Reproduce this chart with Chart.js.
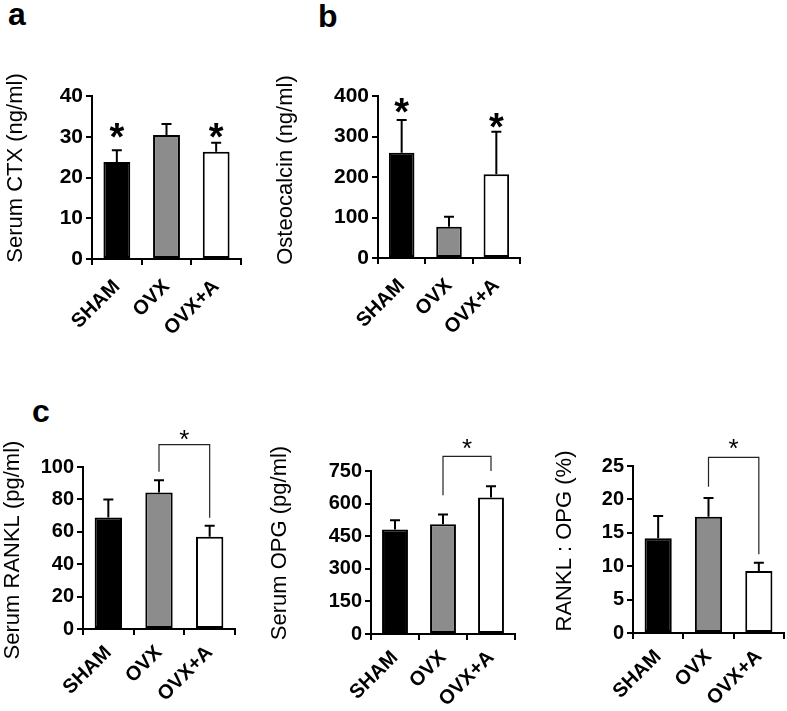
<!DOCTYPE html>
<html>
<head>
<meta charset="utf-8">
<script src="https://cdn.jsdelivr.net/npm/chart.js@4.4.1/dist/chart.umd.min.js"></script>
<style>
  body { margin: 0; background: #fff; }
  #fig { position: relative; width: 787px; height: 711px; overflow: hidden; font-family: "Liberation Sans", Arial, sans-serif; }
  #fig canvas { position: absolute; }
  .letter { position: absolute; font-weight: bold; font-size: 32px; line-height: 1; color: #000; }
</style>
</head>
<body>
<div id="fig">
  <div class="letter" style="left:8px;top:-2px">a</div>
  <div class="letter" style="left:318px;top:0px">b</div>
  <div class="letter" style="left:32px;top:395px">c</div>
  <canvas id="chartA" width="250" height="330" style="left:0px;top:30px"></canvas>
  <canvas id="chartB" width="270" height="330" style="left:255px;top:30px"></canvas>
  <canvas id="chartC1" width="245" height="291" style="left:0px;top:420px"></canvas>
  <canvas id="chartC2" width="270" height="291" style="left:250px;top:420px"></canvas>
  <canvas id="chartC3" width="262" height="291" style="left:525px;top:420px"></canvas>
</div>
<script>
var groups = ['SHAM', 'OVX', 'OVX+A'];
var barColors = ['#000000', '#8c8c8c', '#ffffff'];

// a - serum CTX
var ctxMeans = [23.8, 30.4, 26.3];
var ctxErrors = [2.9, 2.7, 2.2];
var ctxStars = [32.1, null, 32.1];
var ctxTicks = [0, 10, 20, 30, 40];

// b - osteocalcin
var ocnMeans = [260, 77, 207];
var ocnErrors = [81, 25, 105];
var ocnStars = [383, null, 346];
var ocnTicks = [0, 100, 200, 300, 400];

// c - RANKL, OPG, ratio
var ranklMeans = [68.9, 84.2, 57];
var ranklErrors = [11.1, 7.6, 6.7];
var ranklTicks = [0, 20, 40, 60, 80, 100];
var ranklBracket = { from: 1, to: 2, left: 97, right: 68.6, top: 113.8, star: 121 };

var opgMeans = [481, 505, 628];
var opgErrors = [42, 45, 52];
var opgTicks = [0, 150, 300, 450, 600, 750];
var opgBracket = { from: 1, to: 2, left: 638, right: 750, top: 817, star: 883 };

var ratioMeans = [14.2, 17.4, 9.3];
var ratioErrors = [3.3, 2.8, 1.2];
var ratioTicks = [0, 5, 10, 15, 20, 25];
var ratioBracket = { from: 1, to: 2, left: 21.9, right: 11.8, top: 26.3, star: 28.6 };

var family = '"Liberation Sans", Arial, sans-serif';

// error bars, stars, brackets and the y title
var extrasPlugin = {
  id: 'extras',
  afterDatasetsDraw(chart, args, opts) {
    var ctx = chart.ctx;
    var y = chart.scales.y;
    var meta = chart.getDatasetMeta(0);
    ctx.save();
    ctx.strokeStyle = '#000';
    ctx.lineWidth = 2;
    opts.means.forEach((m, i) => {
      var bx = meta.data[i].x;
      var y0 = y.getPixelForValue(m);
      var y1 = y.getPixelForValue(m + opts.errors[i]);
      ctx.beginPath();
      ctx.moveTo(bx, y0);
      ctx.lineTo(bx, y1);
      ctx.moveTo(bx - 5, y1);
      ctx.lineTo(bx + 5, y1);
      ctx.stroke();
    });

    ctx.fillStyle = '#000';
    ctx.textAlign = 'center';
    ctx.textBaseline = 'alphabetic';
    if (opts.stars) {
      ctx.font = 'bold 38px ' + family;
      opts.stars.forEach((s, i) => {
        if (s == null) return;
        ctx.fillText('*', meta.data[i].x, y.getPixelForValue(s) + 0.57 * 38);
      });
    }

    var b = opts.bracket;
    if (b) {
      var xl = meta.data[b.from].x, xr = meta.data[b.to].x;
      var yt = y.getPixelForValue(b.top);
      ctx.lineWidth = 1.2;
      ctx.strokeStyle = '#222';
      ctx.beginPath();
      ctx.moveTo(xl, y.getPixelForValue(b.left));
      ctx.lineTo(xl, yt);
      ctx.lineTo(xr, yt);
      ctx.lineTo(xr, y.getPixelForValue(b.right));
      ctx.stroke();
      ctx.font = '26px ' + family;
      ctx.fillText('*', (xl + xr) / 2, y.getPixelForValue(b.star) + 0.57 * 26);
    }

    var t = opts.title;
    ctx.translate(t.x, t.y);
    ctx.rotate(-Math.PI / 2);
    ctx.font = '22px ' + family;
    ctx.textBaseline = 'middle';
    ctx.fillText(t.text, 0, 0);
    ctx.restore();
  }
};

function makePanel(id, means, errors, ticks, box, extras) {
  var axisLine = { display: true, color: '#000', width: 2 };
  return new Chart(document.getElementById(id), {
    type: 'bar',
    data: {
      labels: groups,
      datasets: [{
        data: means,
        backgroundColor: barColors,
        borderColor: '#000',
        borderWidth: 2,
        borderSkipped: false,
        barPercentage: 0.54,
        categoryPercentage: 1
      }]
    },
    options: {
      responsive: false,
      animation: false,
      layout: { padding: { top: box.top, right: box.right, bottom: 0, left: 0 } },
      plugins: {
        legend: { display: false },
        tooltip: { enabled: false },
        extras: Object.assign({ means: means, errors: errors }, extras)
      },
      scales: {
        x: {
          afterFit: s => { s.height = box.xh; },
          border: axisLine,
          grid: { drawOnChartArea: false, offset: true, tickLength: 6, color: '#000', lineWidth: 2 },
          ticks: { color: '#000', font: { family: family, size: 20, weight: 'bold' }, minRotation: 45, maxRotation: 45, autoSkip: false, padding: box.lpad }
        },
        y: {
          min: 0,
          max: ticks[ticks.length - 1],
          afterBuildTicks: s => { s.ticks = ticks.map(v => ({ value: v })); },
          afterFit: s => { s.width = box.yw; },
          border: axisLine,
          grid: { drawOnChartArea: false, tickLength: 6, color: '#000', lineWidth: 2 },
          ticks: { color: '#000', font: { family: family, size: box.tick, weight: 'bold' }, padding: 3 }
        }
      }
    },
    plugins: [extrasPlugin]
  });
}

makePanel('chartA', ctxMeans, ctxErrors, ctxTicks,
  { top: 66, right: 9, yw: 92, xh: 101, tick: 21, lpad: 10 },
  { stars: ctxStars, title: { text: 'Serum CTX (ng/ml)', x: 16, y: 138 } });

makePanel('chartB', ocnMeans, ocnErrors, ocnTicks,
  { top: 66, right: 5, yw: 123, xh: 102, tick: 21, lpad: 10 },
  { stars: ocnStars, title: { text: 'Osteocalcin (ng/ml)', x: 31, y: 140 } });

makePanel('chartC1', ranklMeans, ranklErrors, ranklTicks,
  { top: 47, right: 10, yw: 83, xh: 82, tick: 20, lpad: 6 },
  { bracket: ranklBracket, title: { text: 'Serum RANKL (pg/ml)', x: 13, y: 130 } });

makePanel('chartC2', opgMeans, opgErrors, opgTicks,
  { top: 51, right: 5, yw: 121, xh: 77, tick: 20, lpad: 6 },
  { bracket: opgBracket, title: { text: 'Serum OPG (pg/ml)', x: 30, y: 123 } });

makePanel('chartC3', ratioMeans, ratioErrors, ratioTicks,
  { top: 46, right: 3, yw: 108, xh: 78, tick: 20, lpad: 6 },
  { bracket: ratioBracket, title: { text: 'RANKL : OPG (%)', x: 40, y: 121 } });
</script>
</body>
</html>
